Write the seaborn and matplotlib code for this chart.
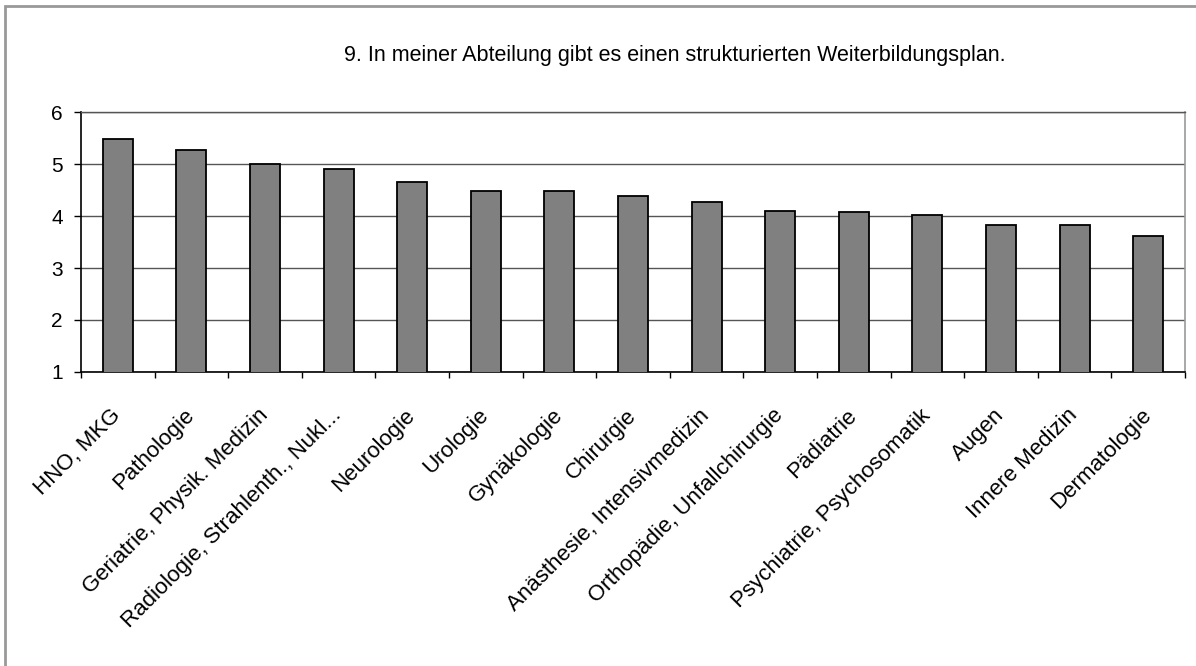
import numpy as np
import pandas as pd
import seaborn as sns
from matplotlib import pyplot as plt
from matplotlib.patches import Rectangle

title = '9. In meiner Abteilung gibt es einen strukturierten Weiterbildungsplan.'

departments = ['HNO, MKG', 'Pathologie', 'Geriatrie, Physik. Medizin',
               'Radiologie, Strahlenth., Nukl...', 'Neurologie', 'Urologie',
               'Gynäkologie', 'Chirurgie', 'Anästhesie, Intensivmedizin',
               'Orthopädie, Unfallchirurgie', 'Pädiatrie',
               'Psychiatrie, Psychosomatik', 'Augen', 'Innere Medizin',
               'Dermatologie']
scores = [5.49, 5.26, 5.00, 4.91, 4.65, 4.49, 4.49, 4.39, 4.26, 4.10,
          4.07, 4.01, 3.82, 3.82, 3.62]
yticks = [1, 2, 3, 4, 5, 6]

sns.set_theme(style='white')
plt.rcParams['font.family'] = ['Liberation Sans', 'DejaVu Sans']

df = pd.DataFrame({'dept': departments, 'score': scores})

fig = plt.figure(figsize=(11.96, 6.66), dpi=100)
ax = fig.add_axes([81 / 1196, 1 - 372 / 666, (1185 - 81) / 1196, (372 - 112) / 666])

sns.barplot(data=df, x='dept', y='score', color='#808080', saturation=1,
            edgecolor='black', linewidth=1.3, width=0.41, ax=ax, zorder=3)

ax.set_ylim(1, 6)
ax.set_xlim(-0.5, len(departments) - 0.5)
ax.set_yticks(yticks)
ax.yaxis.grid(True, color='#555555', linewidth=1, zorder=0)
ax.set_axisbelow(True)
ax.set_xlabel('')
ax.set_ylabel('')

ax.spines['top'].set_color('#555555')
ax.spines['top'].set_linewidth(1)
ax.spines['right'].set_color('#999999')
ax.spines['right'].set_linewidth(1.2)
for side in ('left', 'bottom'):
    ax.spines[side].set_color('black')
    ax.spines[side].set_linewidth(1.2)

# category borders carry the tick marks, labels sit at centres
ax.set_xticks(np.arange(-0.5, len(departments)), minor=True)
ax.tick_params(axis='x', which='minor', direction='out', length=4.5,
               width=1, color='black', bottom=True)
ax.tick_params(axis='x', which='major', length=0, pad=29)
ax.tick_params(axis='y', direction='out', length=5, width=1, color='black',
               left=True, pad=8, labelsize=15)
ax.set_xticks(range(len(departments)))
ax.set_xticklabels(departments, rotation=45, ha='right', va='center',
                   rotation_mode='anchor', fontsize=16, color='black')
for lab in ax.get_yticklabels():
    lab.set_color('black')

fig.text(675 / 1196, 1 - 56 / 666, title, ha='center', va='center',
         fontsize=15.5, color='black')

# outer chart frame (cropped at right and bottom)
fig.patches.append(Rectangle((5, -300), 1400, 960, transform=None, fill=False,
                             edgecolor='#999999', linewidth=2))

fig.savefig('out.png', dpi=100)
